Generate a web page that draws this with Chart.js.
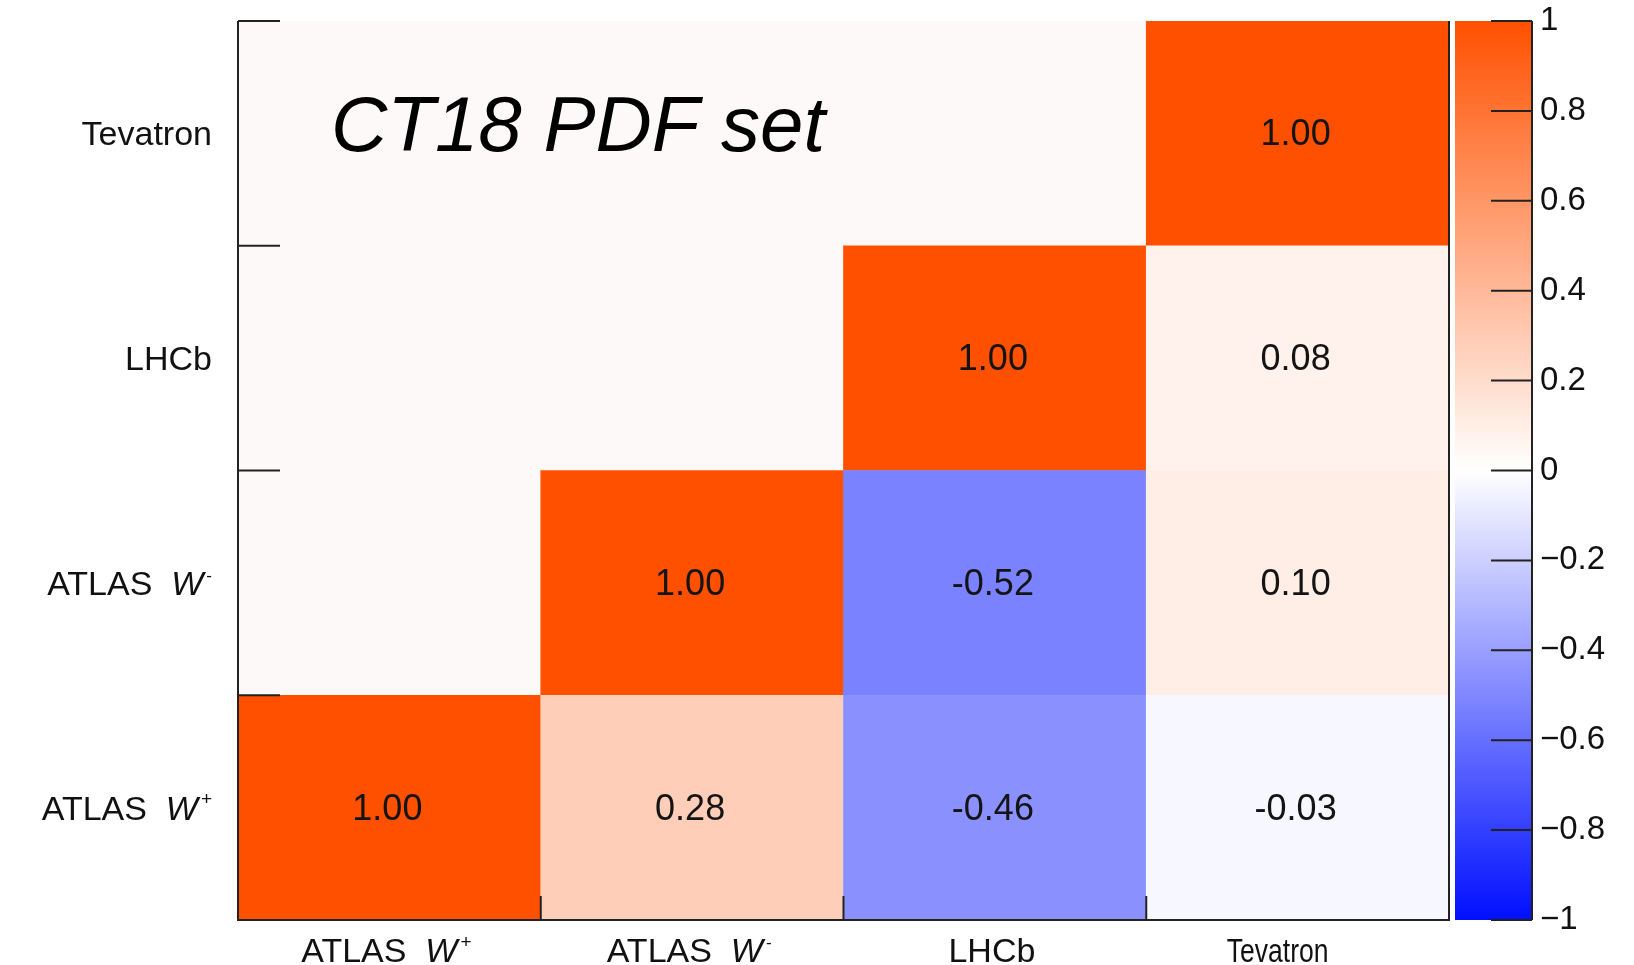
<!DOCTYPE html>
<html>
<head>
<meta charset="utf-8">
<script src="https://cdn.jsdelivr.net/npm/chart.js@4.4.1/dist/chart.umd.min.js"></script>
<style>
  html, body { margin: 0; padding: 0; background: #ffffff; }
  #wrap { width: 1634px; height: 965px; position: relative; }
</style>
</head>
<body>
<div id="wrap"><canvas id="c" width="1634" height="965"></canvas></div>
<script>
// ---------------- data ----------------
const categories = ['ATLAS W+', 'ATLAS W-', 'LHCb', 'Tevatron'];
// rows from bottom (ATLAS W+) to top (Tevatron); null = empty cell
const rowAtlasWplus  = [1.00, 0.28, -0.46, -0.03];
const rowAtlasWminus = [null, 1.00, -0.52, 0.10];
const rowLHCb        = [null, null, 1.00, 0.08];
const rowTevatron    = [null, null, null, 1.00];
const correlationRows = [rowAtlasWplus, rowAtlasWminus, rowLHCb, rowTevatron];
const paletteTicks = [1, 0.8, 0.6, 0.4, 0.2, 0, -0.2, -0.4, -0.6, -0.8, -1];
const titleText = 'CT18 PDF set';

// ---------------- style ----------------
const FF = '"Liberation Sans", Arial, Helvetica, sans-serif';
const POS_END = [255, 80, 0];
const NEG_END = [0, 15, 255];
const EMPTY_BG = 'rgb(254,249,249)';
const AXIS_COL = '#222222';

function colorFor(v) {
  const t = Math.min(1, Math.abs(v));
  const end = v >= 0 ? POS_END : NEG_END;
  const c = [0, 1, 2].map(k => Math.round(255 + (end[k] - 255) * t));
  return `rgb(${c[0]},${c[1]},${c[2]})`;
}
function fmtTick(v) {
  if (v === 0) return '0';
  return (v < 0 ? '\u2212' : '') + String(Math.abs(v));
}

function richParts(label, size) {
  const m = /^(.*) W([+-])$/.exec(label);
  if (!m) return [{ t: label, f: `${size}px ${FF}`, dy: 0, dx: 0 }];
  return [
    { t: m[1] + '  ', f: `${size}px ${FF}`, dy: 0, dx: 0 },
    { t: 'W', f: `italic ${size}px ${FF}`, dy: 0, dx: 0 },
    { t: m[2] === '+' ? '+' : '-', f: `${Math.round(size * (m[2] === '+' ? 0.56 : 0.5))}px ${FF}`, dy: -size * 0.42, dx: 3 }
  ];
}
function drawRich(ctx, label, x, y, align, size, sx) {
  const parts = richParts(label, size);
  let total = 0;
  parts.forEach(p => { ctx.font = p.f; p.w = ctx.measureText(p.t).width + p.dx; total += p.w; });
  ctx.save();
  ctx.translate(x, y);
  ctx.scale(sx || 1, 1);
  let cx = align === 'right' ? -total : (align === 'center' ? -total / 2 : 0);
  ctx.textAlign = 'left';
  ctx.textBaseline = 'alphabetic';
  ctx.fillStyle = '#111';
  parts.forEach(p => { ctx.font = p.f; ctx.fillText(p.t, cx + p.dx, p.dy); cx += p.w; });
  ctx.restore();
}

const xLabelCondense = { 'Tevatron': 0.78 };

const heatPlugin = {
  id: 'heatDecor',
  beforeDatasetsDraw(chart) {
    const { ctx, chartArea: a } = chart;
    ctx.save();
    ctx.fillStyle = EMPTY_BG;
    ctx.fillRect(a.left, a.top, a.right - a.left, a.bottom - a.top);
    ctx.restore();
  },
  afterDatasetsDraw(chart) {
    const { ctx, chartArea: a } = chart;
    const xs = chart.scales.x, ys = chart.scales.y, cb = chart.scales.y2;
    // cell values
    ctx.save();
    ctx.font = `36px ${FF}`;
    ctx.textAlign = 'center';
    ctx.textBaseline = 'middle';
    ctx.fillStyle = '#141414';
    chart.data.datasets.forEach((ds, di) => {
      const meta = chart.getDatasetMeta(di);
      meta.data.forEach((el, j) => {
        const v = correlationRows[di][j];
        if (v === null || v === undefined) return;
        const p = el.getProps(['x', 'y', 'base'], true);
        ctx.fillText(v.toFixed(2), p.x - 2, (p.y + p.base) / 2 + 2);
      });
    });
    ctx.restore();

    // title text inside plot
    ctx.save();
    ctx.font = `italic 78px ${FF}`;
    ctx.fillStyle = '#000';
    ctx.textAlign = 'left';
    ctx.textBaseline = 'alphabetic';
    ctx.fillText(titleText, a.left + 93, a.top + 130);
    ctx.restore();

    // frame lines
    ctx.save();
    ctx.strokeStyle = AXIS_COL;
    ctx.lineWidth = 2;
    ctx.beginPath();
    ctx.moveTo(a.left, a.top); ctx.lineTo(a.left, a.bottom);
    ctx.lineTo(a.right, a.bottom); ctx.lineTo(a.right, a.top);
    ctx.stroke();
    // y ticks at row boundaries (inward)
    for (let i = 1; i <= categories.length; i++) {
      const py = ys.getPixelForValue(i);
      ctx.beginPath(); ctx.moveTo(a.left, py); ctx.lineTo(a.left + 42, py); ctx.stroke();
    }
    // x ticks at column boundaries (inward)
    for (let i = 0; i < categories.length - 1; i++) {
      const px = (xs.getPixelForValue(i) + xs.getPixelForValue(i + 1)) / 2;
      ctx.beginPath(); ctx.moveTo(px, a.bottom); ctx.lineTo(px, a.bottom - 24); ctx.stroke();
    }
    ctx.restore();

    // axis labels
    categories.forEach((lab, i) => {
      const py = ys.getPixelForValue(i + 0.5);
      drawRich(ctx, lab, a.left - 26, py + 12, 'right', 34, 1);
      const px = xs.getPixelForValue(i);
      drawRich(ctx, lab, px - (xLabelCondense[lab] ? 20 : 3), 962, 'center', 34, xLabelCondense[lab] || 1);
    });

    // colour bar
    const top = cb.getPixelForValue(1), bot = cb.getPixelForValue(-1);
    const x0 = a.right + 6, x1 = a.right + 83;
    const g = ctx.createLinearGradient(0, top, 0, bot);
    for (let k = 0; k <= 40; k++) {
      const t = k / 40;
      g.addColorStop(t, colorFor(1 - 2 * t));
    }
    ctx.save();
    ctx.fillStyle = g;
    ctx.fillRect(x0, top, x1 - x0, bot - top);
    ctx.strokeStyle = AXIS_COL;
    ctx.lineWidth = 2;
    ctx.beginPath(); ctx.moveTo(x1, top); ctx.lineTo(x1, bot); ctx.stroke();
    paletteTicks.forEach(v => {
      const py = cb.getPixelForValue(v);
      ctx.beginPath(); ctx.moveTo(x1 - 41, py); ctx.lineTo(x1, py); ctx.stroke();
    });
    ctx.restore();
  }
};

const datasets = correlationRows.map((row, i) => ({
  label: categories[i],
  data: row.map(v => (v === null ? null : [i, i + 1])),
  backgroundColor: row.map(v => (v === null ? 'rgba(0,0,0,0)' : colorFor(v))),
  borderWidth: 0,
  barPercentage: 1,
  categoryPercentage: 1,
  grouped: false
}));

const hiddenAxis = {
  grid: { display: false, drawTicks: false, tickLength: 0 },
  border: { display: false },
  ticks: { display: false }
};

new Chart(document.getElementById('c'), {
  type: 'bar',
  data: { labels: categories, datasets },
  plugins: [heatPlugin],
  options: {
    responsive: false,
    animation: false,
    layout: { padding: { left: 238, top: 21, right: 0, bottom: 45 } },
    plugins: { legend: { display: false }, tooltip: { enabled: false }, title: { display: false } },
    scales: {
      x: Object.assign({ type: 'category', offset: true }, hiddenAxis),
      y: Object.assign({ type: 'linear', min: 0, max: categories.length }, hiddenAxis),
      y2: {
        type: 'linear',
        position: 'right',
        min: -1,
        max: 1,
        grid: { display: false, drawTicks: false, tickLength: 0 },
        border: { display: false },
        afterBuildTicks(scale) { scale.ticks = paletteTicks.map(v => ({ value: v })); },
        afterFit(scale) { scale.width = 185; scale.paddingTop = 0; scale.paddingBottom = 0; },
        ticks: {
          padding: 91,
          color: '#111',
          font: { family: FF, size: 33 },
          callback: v => fmtTick(v)
        }
      }
    }
  }
});
</script>
</body>
</html>
